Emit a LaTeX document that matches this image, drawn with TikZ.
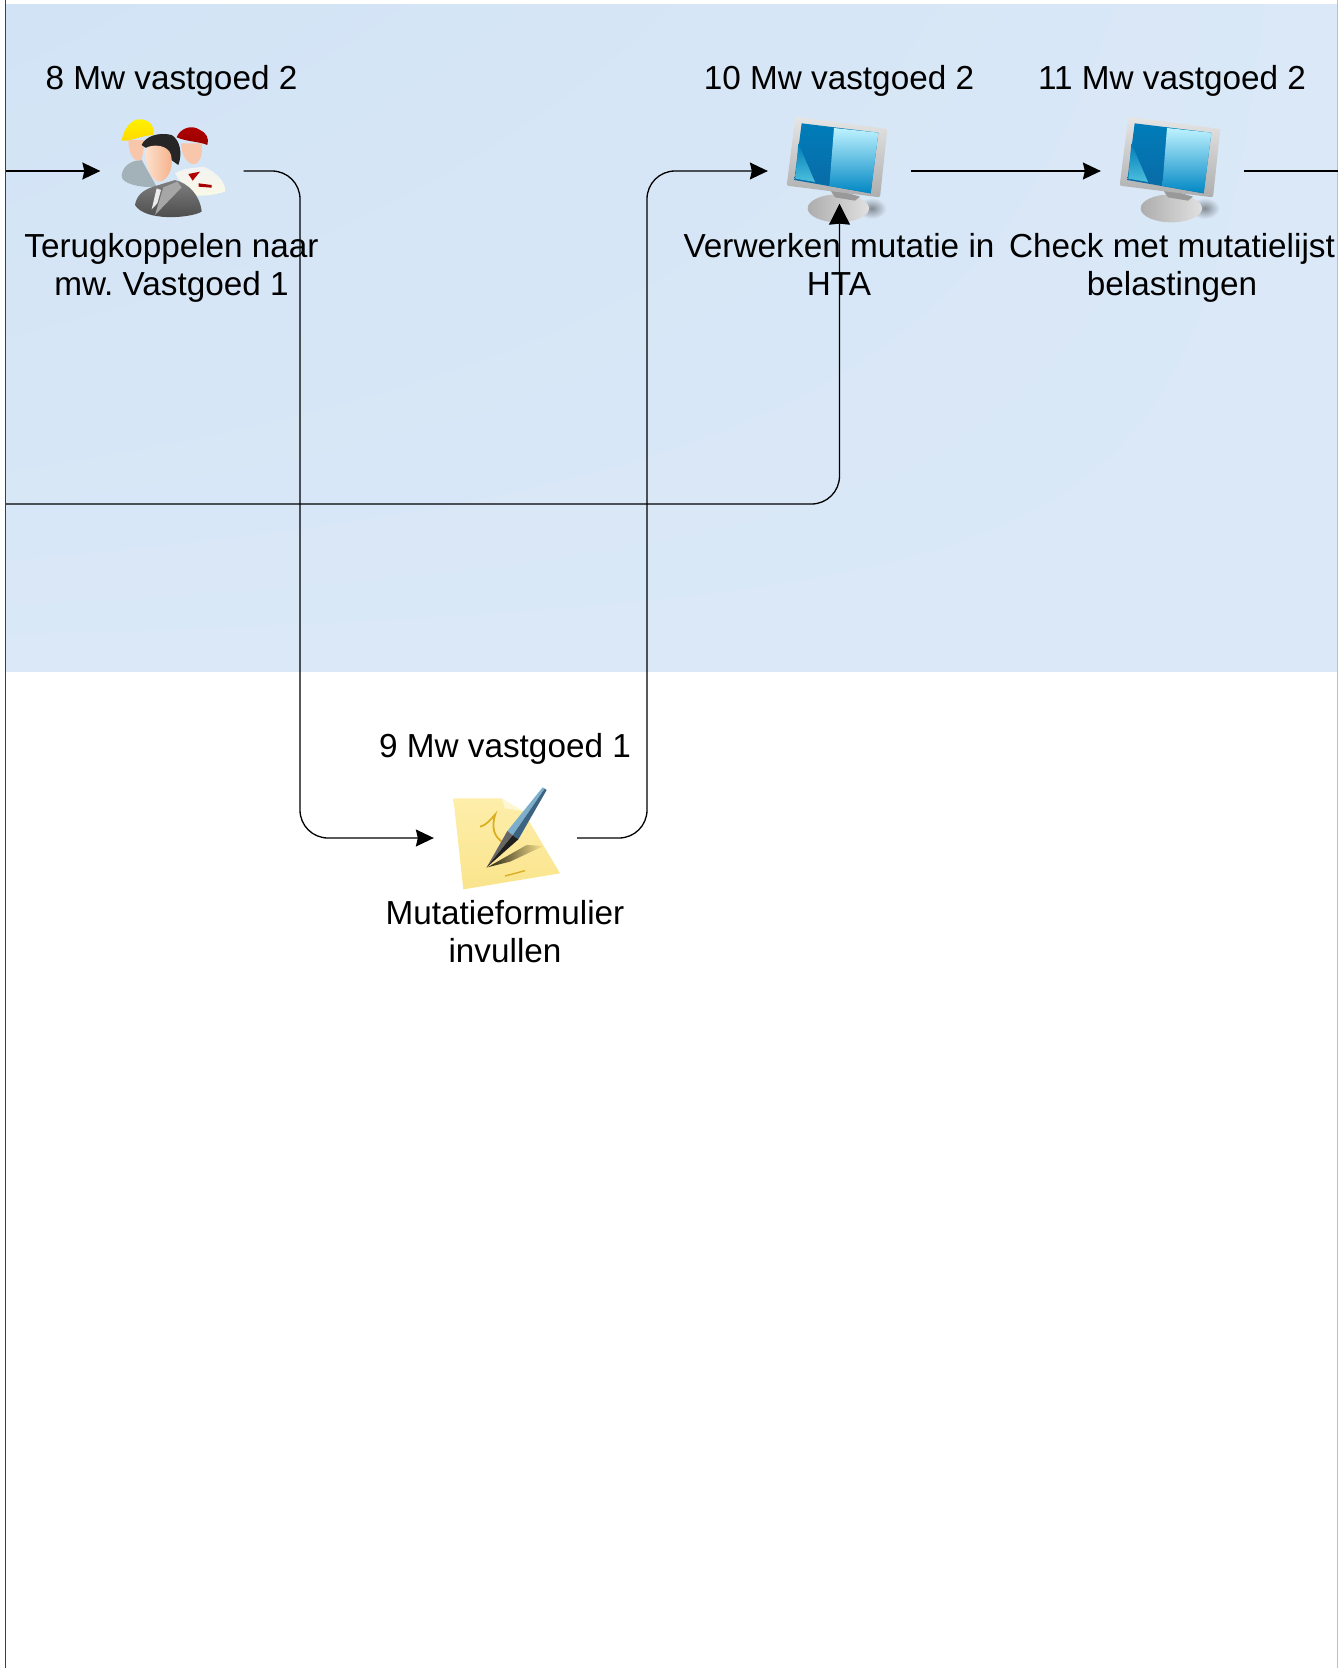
\documentclass[tikz,border=0pt]{standalone}
\usepackage{fontspec}
\setmainfont{Liberation Sans}
\usetikzlibrary{arrows.meta,shadings}

\definecolor{laneA}{RGB}{209,227,245}
\definecolor{laneB}{RGB}{218,232,247}
\definecolor{skinA}{RGB}{253,225,205}
\definecolor{skinB}{RGB}{245,175,135}
\definecolor{paperA}{RGB}{253,238,170}
\definecolor{paperB}{RGB}{250,228,140}
\definecolor{glassA}{RGB}{0,125,185}
\definecolor{glassB}{RGB}{10,105,165}
\definecolor{glassC}{RGB}{190,242,255}
\definecolor{glassD}{RGB}{0,135,195}
\definecolor{penA}{RGB}{125,175,205}
\definecolor{penB}{RGB}{60,100,130}

\tikzset{every picture/.style={line width=1.3pt}}
\tikzset{
  stepbox/.style={minimum width=142pt,minimum height=64pt,inner sep=0pt},
  steptext/.style={font=\fontsize{33.3}{38}\selectfont,align=center,anchor=base,inner sep=0pt},
  flow/.style={rounded corners=28pt,-{Stealth[length=18pt,width=17pt,inset=2pt]}},
  flowup/.style={rounded corners=28pt,-{Stealth[length=21pt,width=21pt,inset=1pt]}},
  pics/screen/.style={code={
    \begin{scope}[xscale=1/3,yscale=-1/3]
    %Shape: shadow
    \shade [inner color=black!40!laneB,outer color=laneB] (335,325) ellipse (45 and 32);
    %Shape: stand
    \shade [left color=black!32,right color=black!12] (235,325) ellipse (92 and 42);
    \fill [black!40] (205,262) -- (300,290) -- (285,302) -- (225,292) -- cycle;
    %Shape: frame
    \shade [top color=black!10,bottom color=black!32,rounded corners=2pt] (106,50) -- (382,87) -- (360,292) -- (80,257) -- cycle;
    %Shape: glass
    \shade [top color=glassA,bottom color=glassB] (125,70) -- (355,98) -- (332,280) -- (103,240) -- cycle;
    \shade [top color=glassC,bottom color=glassD] (222,84) -- (355,98) -- (332,280) -- (208,258) -- cycle;
    \shade [top color=glassA,bottom color=cyan!30!glassA!70!white] (115,130) -- (165,246) -- (106,236) -- cycle;
    \end{scope}}},
  pics/workers/.style={code={
    \begin{scope}[xscale=1/3,yscale=-1/3]
    %Shape: left worker
    \fill [black!30!cyan!25!gray!70!white] (65,225) .. controls (70,190) and (105,180) .. (125,180) -- (170,260) .. controls (120,265) and (60,250) .. (65,225) -- cycle;
    \fill [skinB!70!white] (85,120) .. controls (85,165) and (105,190) .. (125,180) -- (135,120) -- cycle;
    \shade [top color=yellow!90!orange,bottom color=yellow!70!orange] (65,122) .. controls (75,70) and (105,55) .. (125,58) .. controls (155,62) and (165,85) .. (160,105) .. controls (130,105) and (90,125) .. (65,122) -- cycle;
    %Shape: right worker
    \shade [top color=white!95!black,bottom color=black!20!yellow!10!white] (225,220) .. controls (250,205) and (270,205) .. (310,200) .. controls (350,215) and (380,250) .. (375,275) .. controls (340,285) and (310,290) .. (270,285) -- cycle;
    \fill [red!70!black] (265,222) -- (300,215) -- (278,242) -- cycle;
    \fill [red!65!black] (296,250) -- (335,255) -- (335,263) -- (296,260) -- cycle;
    \fill [skinB!70!white] (243,130) .. controls (245,175) and (270,200) .. (290,190) .. controls (305,180) and (308,150) .. (305,130) -- cycle;
    \shade [top color=red!70!black,bottom color=red!60!black] (230,112) .. controls (240,85) and (275,72) .. (300,90) .. controls (320,100) and (328,115) .. (322,135) .. controls (300,125) and (260,125) .. (230,112) -- cycle;
    %Shape: front man
    \shade [top color=black!50,bottom color=black!72] (105,315) .. controls (110,285) and (130,270) .. (160,260) -- (225,240) .. controls (265,250) and (300,285) .. (305,335) .. controls (270,355) and (135,365) .. (105,315) -- cycle;
    \fill [black!8] (170,265) -- (183,270) -- (172,310) -- (155,328) -- cycle;
    \fill [black!35] (190,262) -- (232,245) -- (245,262) -- (165,345) -- cycle;
    \fill [black!85] (125,135) .. controls (135,110) and (175,95) .. (215,105) .. controls (240,120) and (248,160) .. (235,195) -- (200,170) -- (135,142) -- cycle;
    \shade [left color=skinA,right color=skinB] (135,145) .. controls (160,130) and (205,135) .. (213,165) .. controls (222,200) and (205,240) .. (180,245) .. controls (150,245) and (135,190) .. (135,145) -- cycle;
    \end{scope}}},
  pics/noteform/.style={code={
    \begin{scope}[xscale=1/3,yscale=-1/3]
    %Shape: paper
    \shade [top color=paperA,bottom color=paperB] (70,85) -- (215,85) -- (280,125) -- (390,310) -- (100,358) -- cycle;
    \fill [paperA!50!white] (215,85) -- (225,115) -- (275,122) -- cycle;
    %Shape: scribble
    \draw [yellow!55!orange!85!black,line width=1.8pt] (150,170) .. controls (175,165) and (200,125) .. (195,135) .. controls (180,190) and (205,205) .. (215,215);
    \draw [yellow!55!orange!85!black,line width=1.4pt] (225,318) -- (285,302);
    %Shape: pen shadow
    \shade [left color=black!85!paperB,right color=paperB] (172,292) -- (290,225) -- (340,228) -- (240,275) -- cycle;
    %Shape: pen
    \fill [penA] (232,183) -- (338,52) -- (344,56) -- (248,196) -- cycle;
    \fill [penB] (248,196) -- (344,56) -- (350,60) -- (265,208) -- cycle;
    \fill [black!60] (232,183) -- (248,196) -- (170,292) -- cycle;
    \fill [black!88] (248,196) -- (265,208) -- (170,292) -- cycle;
    \end{scope}}}
}

\begin{document}
\frenchspacing
\begin{tikzpicture}[x=1pt,y=1pt,yscale=-1,xscale=1]
\useasboundingbox (0,0) rectangle (1338,1668);

%Shape: Lane
\shade [lower left=laneB,lower right=laneB,upper left=laneA,upper right=laneB] (6,4) rectangle (1337,671);
\draw [black!75] (5.5,0) -- (5.5,1668);
\draw [black!25] (1337.5,0) -- (1337.5,1668);

%Shape: Icons
\node [stepbox] (usr8) at (172,171) {};
\node [stepbox] (note9) at (505.5,838) {};
\node [stepbox] (pc10) at (839.5,171) {};
\node [stepbox] (pc11) at (1172.5,171) {};
\pic at (100,100) {workers};
\pic at (430,770) {noteform};
\pic at (760,100) {screen};
\pic at (1093,100) {screen};

\coordinate (inA) at (6,171);
\coordinate (inB) at (6,504);
\coordinate (outA) at (1338,171);

%Connectors
\draw [flow] (inA) -- (usr8);
\draw [flow] (usr8.east) -- (300,171) -- (300,838) -- (note9.west);
\draw [flow] (note9.east) -- (647,838) -- (647,171) -- (pc10.west);
\draw [flow] (pc10.east) -- (pc11.west);
\draw (pc11.east) -- (outA);
\draw [flowup] (inB) -| (pc10.south);

% Text Node
\node [steptext] (role8) at (171.5,89) {8 Mw vastgoed 2};
% Text Node
\node [steptext] (task8) at (171.5,295) {Terugkoppelen naar\\mw. Vastgoed 1};
% Text Node
\node [steptext] (role9) at (505,757) {9 Mw vastgoed 1};
% Text Node
\node [steptext] (task9) at (505,962) {Mutatieformulier\\invullen};
% Text Node
\node [steptext] (role10) at (839,89) {10 Mw vastgoed 2};
% Text Node
\node [steptext] (task10) at (839,295) {Verwerken mutatie in\\HTA};
% Text Node
\node [steptext] (role11) at (1172,89) {11 Mw vastgoed 2};
% Text Node
\node [steptext] (task11) at (1172,295) {Check met mutatielijst\\belastingen};

\end{tikzpicture}
\end{document}
